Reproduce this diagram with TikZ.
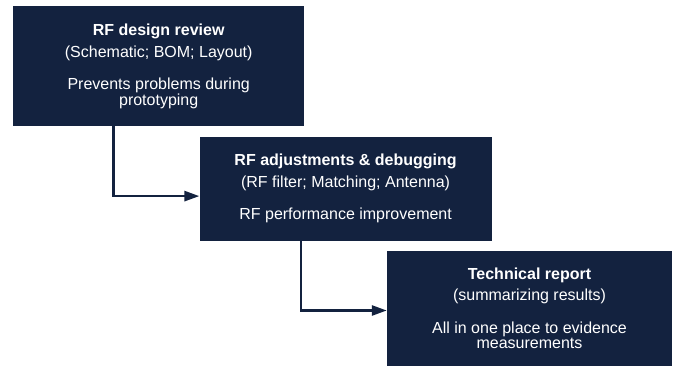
\documentclass[tikz,border=0pt]{standalone}
\usepackage{fontspec}
\setmainfont{Liberation Sans}
\usepackage{xcolor}
\usepackage{tikz}
\usetikzlibrary{arrows.meta, positioning}
\definecolor{navy}{HTML}{13223F}
\tikzset{
  stepbox/.style={rectangle, draw=none, fill=navy, text=white, align=center, inner sep=0pt, font=\fontsize{16}{15.5}\selectfont},
  flowline/.style={-{Triangle[length=15pt, width=10pt]}, line width=2.6pt, draw=navy},
}
\begin{document}
\begin{tikzpicture}[x=1pt, y=-1pt]
\useasboundingbox (0,0) rectangle (680,366);
\node[stepbox, anchor=north west, minimum width=291pt, minimum height=120pt] at (13,6) (review) {\textbf{RF design review}\\[6pt](Schematic; BOM; Layout)\\[17pt]Prevents problems during\\prototyping};
\node[stepbox, minimum width=292pt, minimum height=104pt, below right=10pt and -105pt of review.south east] (debug) {\textbf{RF adjustments \& debugging}\\[6pt](RF filter; Matching; Antenna)\\[17pt]RF performance improvement};
\node[stepbox, minimum width=285pt, minimum height=115pt, below right=10pt and -105pt of debug.south east] (report) {\textbf{Technical report}\\[6pt](summarizing results)\\[17pt]All in one place to evidence\\measurements};

\draw[flowline] ([xshift=100.5pt]review.south west) |- ([yshift=-7.5pt]debug.west);
\draw[flowline] ([xshift=101.5pt]debug.south west) |- ([yshift=-2pt]report.west);
\end{tikzpicture}
\end{document}
